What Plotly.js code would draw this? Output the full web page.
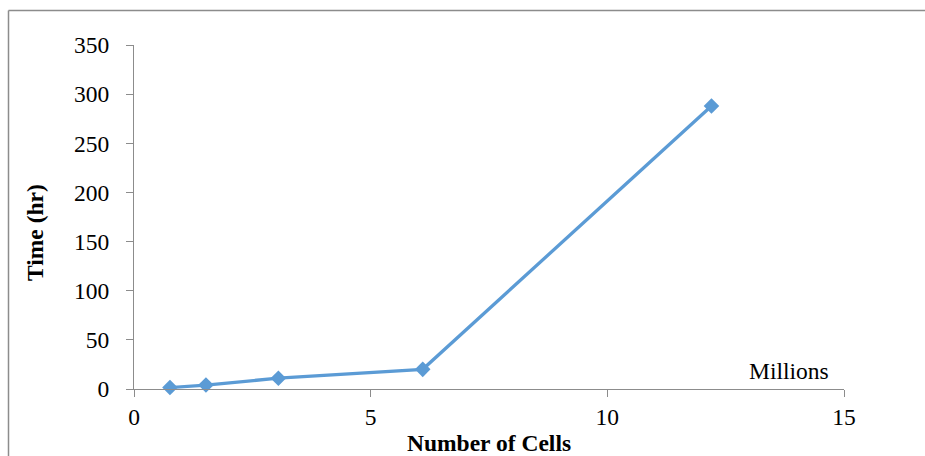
<!DOCTYPE html>
<html>
<head>
<meta charset="utf-8">
<script src="https://cdn.plot.ly/plotly-3.0.1.min.js"></script>
<style>
  html, body { margin: 0; padding: 0; background: #fff; }
  #chart { width: 925px; height: 456px; }
</style>
</head>
<body>
<div id="chart"></div>
<script>
// Number of cells (millions) and run time (hours)
const cellsMillions = [0.76, 1.52, 3.05, 6.1, 12.2];
const timeHours = [1.5, 4, 11, 20, 288];
const xTicks = [0, 5, 10, 15];
const yTicks = [0, 50, 100, 150, 200, 250, 300, 350];

const serif = '"Liberation Serif", "Times New Roman", Times, serif';
const W = 925, H = 456;
const M = {l: 134, r: 81, t: 45, b: 67};
const pw = W - M.l - M.r, ph = H - M.t - M.b;
const px = v => (v - M.l) / pw;        // pixel x -> paper
const py = v => (H - M.b - v) / ph;    // pixel y -> paper

const trace = {
  x: cellsMillions,
  y: timeHours,
  type: 'scatter',
  mode: 'lines+markers',
  line: {color: '#5B9BD5', width: 3.3},
  marker: {symbol: 'diamond', size: 12, color: '#5B9BD5'},
  cliponaxis: false,
  showlegend: false
};

function axisBase() {
  return {
    showgrid: false,
    zeroline: false,
    showline: true,
    linecolor: '#8c8c8c',
    linewidth: 1,
    ticks: 'outside',
    ticklen: 7,
    tickcolor: '#8c8c8c',
    tickfont: {family: serif, size: 23.5, color: '#000'},
    fixedrange: true
  };
}

const layout = {
  width: W, height: H,
  margin: M,
  font: {family: serif, color: '#000'},
  paper_bgcolor: '#fff',
  plot_bgcolor: '#fff',
  xaxis: Object.assign(axisBase(), {
    range: [0, 15], tickvals: xTicks, ticktext: xTicks.map(String)
  }),
  yaxis: Object.assign(axisBase(), {
    range: [0, 350], tickvals: yTicks, ticktext: yTicks.map(String),
    ticklabelstandoff: 12
  }),
  annotations: [
    {text: 'Time (hr)', xref: 'paper', yref: 'paper', x: px(35), y: py(233),
     textangle: -90, showarrow: false, xanchor: 'center', yanchor: 'middle',
     font: {family: serif, size: 23.5, color: '#000', weight: 'bold'}},
    {text: 'Number of Cells', xref: 'paper', yref: 'paper', x: px(489), y: py(443),
     showarrow: false, xanchor: 'center', yanchor: 'middle',
     font: {family: serif, size: 23.5, color: '#000', weight: 'bold'}},
    {text: 'Millions', xref: 'paper', yref: 'paper', x: px(789), y: py(371),
     showarrow: false, xanchor: 'center', yanchor: 'middle',
     font: {family: serif, size: 23.5, color: '#000'}}
  ],
  shapes: [
    {type: 'line', xref: 'paper', yref: 'paper', x0: px(8.5), x1: px(8.5), y0: py(10.5), y1: py(470),
     line: {color: '#8c8c8c', width: 1.5}},
    {type: 'line', xref: 'paper', yref: 'paper', x0: px(8.5), x1: px(940), y0: py(10.5), y1: py(10.5),
     line: {color: '#8c8c8c', width: 1.5}}
  ]
};

Plotly.newPlot('chart', [trace], layout, {displayModeBar: false, staticPlot: true});
</script>
</body>
</html>
